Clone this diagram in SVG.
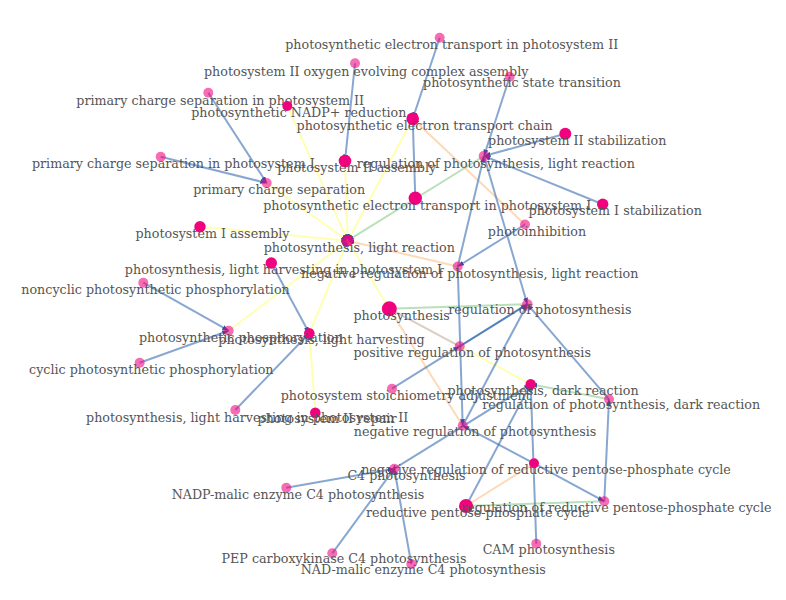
<svg xmlns="http://www.w3.org/2000/svg" width="786" height="600" viewBox="0 0 786 600">
<style>
.e{stroke-width:2;fill:none;marker-end:url(#ah)}
.b{stroke:#386cb0;stroke-opacity:.6}
.bd{stroke:#386cb0;stroke-opacity:.85}
.y{stroke:#ffff99;stroke-opacity:.75}
.g{stroke:#7fc97f;stroke-opacity:.55}
.o{stroke:#fdc086;stroke-opacity:.6}
.p{stroke:#beaed4;stroke-opacity:.6}
.nd{fill:#f0027f}
.nl{fill:#f0027f;fill-opacity:.58}
text{font-family:"DejaVu Serif","Liberation Serif",serif;font-size:12.7px;fill:#555;text-anchor:middle}
</style>
<defs>
<marker id="ah" viewBox="0 0 10 10" refX="10" refY="5" markerWidth="6.5" markerHeight="5" markerUnits="userSpaceOnUse" orient="auto" preserveAspectRatio="none"><path d="M0,0 L10,5 L0,10 z" fill="#34509a"/></marker>
</defs>
<rect width="786" height="600" fill="#fff"/>
<g id="connectors">
<line class="e y" x1="287.3" y1="106" x2="347.7" y2="240.7"/>
<line class="e y" x1="345" y1="161" x2="347.7" y2="240.7"/>
<line class="e y" x1="412.7" y1="118.7" x2="347.7" y2="240.7"/>
<line class="e y" x1="266.7" y1="183" x2="347.7" y2="240.7"/>
<line class="e y" x1="200" y1="226.7" x2="347.7" y2="240.7"/>
<line class="e y" x1="228.7" y1="330.7" x2="347.7" y2="240.7"/>
<line class="e y" x1="309.3" y1="333.3" x2="347.7" y2="240.7"/>
<line class="e y" x1="347.7" y1="240.7" x2="389.3" y2="308.7"/>
<line class="e y" x1="530.7" y1="384.2" x2="389.3" y2="308.7"/>
<line class="e y" x1="315.3" y1="412.7" x2="309.3" y2="333.3"/>
<line class="e g" x1="484" y1="156" x2="347.7" y2="240.7"/>
<line class="e g" x1="527.3" y1="304.2" x2="389.3" y2="308.7"/>
<line class="e g" x1="609" y1="399.3" x2="530.7" y2="384.2"/>
<line class="e g" x1="604.3" y1="501.3" x2="466" y2="506"/>
<line class="e o" x1="525" y1="224.5" x2="412.7" y2="118.7"/>
<line class="e o" x1="457.7" y1="266.5" x2="347.7" y2="240.7"/>
<line class="e o" x1="462.7" y1="425.7" x2="389.3" y2="308.7"/>
<line class="e o" x1="534" y1="463.3" x2="466" y2="506"/>
<line class="e p" x1="459.7" y1="346.3" x2="389.3" y2="308.7"/>
<line class="e b" x1="439.7" y1="37.7" x2="412.7" y2="118.7"/>
<line class="e b" x1="355" y1="63.3" x2="345" y2="161"/>
<line class="e b" x1="415.3" y1="198.3" x2="412.7" y2="118.7"/>
<line class="e b" x1="509.7" y1="76.7" x2="484" y2="156"/>
<line class="e b" x1="565.3" y1="133.7" x2="484" y2="156"/>
<line class="e b" x1="602.7" y1="204.3" x2="484" y2="156"/>
<line class="e b" x1="484" y1="156" x2="527.3" y2="304.2"/>
<line class="e b" x1="457.7" y1="266.5" x2="484" y2="156"/>
<line class="e b" x1="208.3" y1="92.7" x2="266.7" y2="183"/>
<line class="e b" x1="160.7" y1="156.7" x2="266.7" y2="183"/>
<line class="e b" x1="525" y1="224.5" x2="457.7" y2="266.5"/>
<line class="e b" x1="457.7" y1="266.5" x2="462.7" y2="425.7"/>
<line class="e bd" x1="459.7" y1="346.3" x2="527.3" y2="304.2"/>
<line class="e b" x1="392" y1="388.7" x2="459.7" y2="346.3"/>
<line class="e b" x1="462.7" y1="425.7" x2="527.3" y2="304.2"/>
<line class="e b" x1="609" y1="399.3" x2="527.3" y2="304.2"/>
<line class="e b" x1="394.3" y1="468.7" x2="530.7" y2="384.2"/>
<line class="e b" x1="466" y1="506" x2="530.7" y2="384.2"/>
<line class="e b" x1="536.3" y1="543.7" x2="530.7" y2="384.2"/>
<line class="e b" x1="534" y1="463.3" x2="462.7" y2="425.7"/>
<line class="e b" x1="534" y1="463.3" x2="604.3" y2="501.3"/>
<line class="e b" x1="604.3" y1="501.3" x2="609" y2="399.3"/>
<line class="e b" x1="286.3" y1="487.7" x2="394.3" y2="468.7"/>
<line class="e b" x1="332.3" y1="553.3" x2="394.3" y2="468.7"/>
<line class="e b" x1="411.3" y1="564" x2="394.3" y2="468.7"/>
<line class="e b" x1="143.3" y1="282.7" x2="228.7" y2="330.7"/>
<line class="e b" x1="139.7" y1="362.7" x2="228.7" y2="330.7"/>
<line class="e b" x1="271.3" y1="263" x2="309.3" y2="333.3"/>
<line class="e b" x1="235.3" y1="410" x2="309.3" y2="333.3"/>
</g>
<g id="n1"><circle class="nl" cx="439.7" cy="37.7" r="5"/><text x="451.7" y="49.3">photosynthetic electron transport in photosystem II</text></g>
<g id="n2"><circle class="nl" cx="355" cy="63.3" r="5"/><text x="366.2" y="75.7">photosystem II oxygen evolving complex assembly</text></g>
<g id="n3"><circle class="nl" cx="509.7" cy="76.7" r="5"/><text x="522" y="86.7">photosynthetic state transition</text></g>
<g id="n4"><circle class="nl" cx="208.3" cy="92.7" r="5"/><text x="220.2" y="104.5">primary charge separation in photosystem II</text></g>
<g id="n5"><circle class="nd" cx="287.3" cy="106" r="5"/><text x="298.8" y="117">photosynthetic NADP+ reduction</text></g>
<g id="n6"><circle class="nd" cx="412.7" cy="118.7" r="6.3"/><text x="424.7" y="130">photosynthetic electron transport chain</text></g>
<g id="n7"><circle class="nd" cx="565.3" cy="133.7" r="6"/><text x="577.2" y="144.5">photosystem II stabilization</text></g>
<g id="n8"><circle class="nl" cx="160.7" cy="156.7" r="5"/><text x="173.3" y="168">primary charge separation in photosystem I</text></g>
<g id="n9"><circle class="nl" cx="484" cy="156" r="5.3"/><text x="495.8" y="167.7">regulation of photosynthesis, light reaction</text></g>
<g id="n10"><circle class="nd" cx="345" cy="161" r="6.3"/><text x="356.7" y="171.7">photosystem II assembly</text></g>
<g id="n11"><circle class="nl" cx="266.7" cy="183" r="5"/><text x="279.2" y="194">primary charge separation</text></g>
<g id="n12"><circle class="nd" cx="415.3" cy="198.3" r="6.7"/><text x="427.2" y="209.5">photosynthetic electron transport in photosystem I</text></g>
<g id="n13"><circle class="nd" cx="602.7" cy="204.3" r="5.7"/><text x="615.2" y="215">photosystem I stabilization</text></g>
<g id="n14"><circle class="nd" cx="200" cy="226.7" r="5.7"/><text x="212.5" y="238">photosystem I assembly</text></g>
<g id="n15"><circle class="nl" cx="525" cy="224.5" r="5"/><text x="537" y="235.5">photoinhibition</text></g>
<g id="n16"><circle class="nd" cx="347.7" cy="240.7" r="5.7" fill-opacity=".85"/><text x="359.3" y="251.7">photosynthesis, light reaction</text></g>
<g id="n17"><circle class="nd" cx="271.3" cy="263" r="5.7"/><text x="283.5" y="274">photosynthesis, light harvesting in photosystem I</text></g>
<g id="n18"><circle class="nl" cx="457.7" cy="266.5" r="5"/><text x="469.7" y="277.5">negative regulation of photosynthesis, light reaction</text></g>
<g id="n19"><circle class="nl" cx="143.3" cy="282.7" r="5"/><text x="155.5" y="294">noncyclic photosynthetic phosphorylation</text></g>
<g id="n20"><circle class="nd" cx="389.3" cy="308.7" r="7.5"/><text x="401.7" y="320">photosynthesis</text></g>
<g id="n21"><circle class="nl" cx="527.3" cy="304.2" r="5.3"/><text x="539.8" y="314">regulation of photosynthesis</text></g>
<g id="n22"><circle class="nl" cx="228.7" cy="330.7" r="5"/><text x="240.8" y="341.5">photosynthetic phosphorylation</text></g>
<g id="n23"><circle class="nd" cx="309.3" cy="333.3" r="5.3"/><text x="321.5" y="343.7">photosynthesis, light harvesting</text></g>
<g id="n24"><circle class="nl" cx="459.7" cy="346.3" r="5"/><text x="472.2" y="356.5">positive regulation of photosynthesis</text></g>
<g id="n25"><circle class="nl" cx="139.7" cy="362.7" r="5"/><text x="151.3" y="373.5">cyclic photosynthetic phosphorylation</text></g>
<g id="n26"><circle class="nd" cx="530.7" cy="384.2" r="5.2"/><text x="543" y="394.5">photosynthesis, dark reaction</text></g>
<g id="n27"><circle class="nl" cx="392" cy="388.7" r="5"/><text x="405.7" y="400">photosystem stoichiometry adjustment</text></g>
<g id="n28"><circle class="nl" cx="609" cy="399.3" r="5"/><text x="621.2" y="408.5">regulation of photosynthesis, dark reaction</text></g>
<g id="n29"><circle class="nl" cx="235.3" cy="410" r="5"/><text x="247.2" y="421.5">photosynthesis, light harvesting in photosystem II</text></g>
<g id="n30"><circle class="nd" cx="315.3" cy="412.7" r="5.3"/><text x="327" y="423.3">photosystem II repair</text></g>
<g id="n31"><circle class="nl" cx="462.7" cy="425.7" r="5"/><text x="475" y="436">negative regulation of photosynthesis</text></g>
<g id="n32"><circle class="nd" cx="534" cy="463.3" r="5"/><text x="546" y="474">negative regulation of reductive pentose-phosphate cycle</text></g>
<g id="n33"><circle class="nl" cx="394.3" cy="468.7" r="5"/><text x="406.5" y="480">C4 photosynthesis</text></g>
<g id="n34"><circle class="nl" cx="286.3" cy="487.7" r="5"/><text x="298" y="498.7">NADP-malic enzyme C4 photosynthesis</text></g>
<g id="n35"><circle class="nd" cx="466" cy="506" r="7"/><text x="477.7" y="516.7">reductive pentose-phosphate cycle</text></g>
<g id="n36"><circle class="nl" cx="604.3" cy="501.3" r="5"/><text x="616.3" y="512">regulation of reductive pentose-phosphate cycle</text></g>
<g id="n37"><circle class="nl" cx="536.3" cy="543.7" r="5"/><text x="548.8" y="554">CAM photosynthesis</text></g>
<g id="n38"><circle class="nl" cx="332.3" cy="553.3" r="5"/><text x="344" y="563.3">PEP carboxykinase C4 photosynthesis</text></g>
<g id="n39"><circle class="nl" cx="411.3" cy="564" r="5"/><text x="423.3" y="574.3">NAD-malic enzyme C4 photosynthesis</text></g>
</svg>
